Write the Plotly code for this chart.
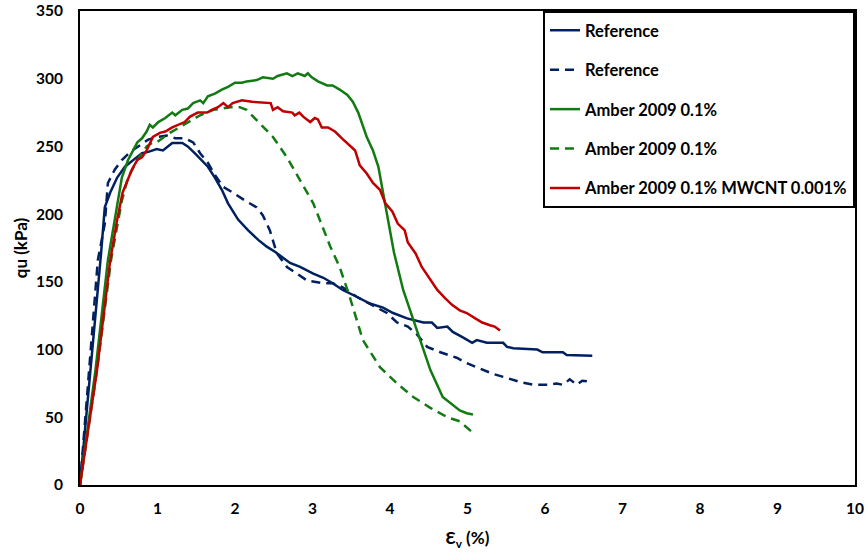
import plotly.graph_objects as go

# Reference (solid)
ref_solid_x = [0, 0.13, 0.27, 0.32, 0.39, 0.48, 0.58, 0.71, 0.80, 0.88, 0.99, 1.07, 1.19, 1.32, 1.39, 1.48,
               1.57, 1.65, 1.74, 1.83, 1.91, 2.04, 2.17, 2.30, 2.41, 2.52, 2.71, 2.84, 3.01, 3.14, 3.26,
               3.39, 3.57, 3.74, 3.91, 4.04, 4.22, 4.43, 4.54, 4.61, 4.74, 4.81, 4.94, 5.06, 5.12, 5.25,
               5.46, 5.51, 5.59, 5.90, 5.97, 6.23, 6.28, 6.61]
ref_solid_y = [0, 80, 170, 205, 216, 227, 235, 241, 245, 246, 248, 247, 252.5, 252.5, 250, 245,
               240, 235, 227, 218, 208, 196, 188, 181, 176, 172, 164, 161, 156, 153, 149,
               144, 139, 134, 131, 127, 123, 120, 120, 116, 117, 113, 109, 105, 107, 105,
               105, 102, 101, 100, 98, 98, 96, 95.5]

# Reference (dashed)
ref_dash_x = [0, 0.12, 0.23, 0.32, 0.36, 0.45, 0.54, 0.65, 0.77, 0.88, 0.99, 1.12, 1.23, 1.35, 1.46,
              1.55, 1.65, 1.74, 1.85, 1.97, 2.13, 2.28, 2.36, 2.45, 2.54, 2.67, 2.93, 3.14, 3.26, 3.39,
              3.57, 3.74, 3.96, 4.09, 4.23, 4.35, 4.48, 4.65, 4.86, 4.99, 5.16, 5.33, 5.51, 5.68, 5.85,
              6.03, 6.15, 6.23, 6.32, 6.41, 6.48, 6.61]
ref_dash_y = [0, 90, 166, 193, 223, 233, 240, 246, 251, 255, 257, 258, 256, 256, 253,
              245, 238, 229, 220, 216, 210, 205, 199, 188, 171, 161, 151, 149, 149, 146,
              139, 134, 127, 120, 117, 111, 102, 98, 94, 90, 86, 82, 79, 76, 74,
              74, 75, 74, 78, 74, 77, 76]

# Amber 2009 0.1% (solid)
amb_solid_x = [0, 0.20, 0.36, 0.45, 0.54, 0.62, 0.74, 0.80, 0.86, 0.90, 0.94, 1.01, 1.10, 1.19, 1.23,
               1.32, 1.39, 1.46, 1.55, 1.59, 1.65, 1.74, 1.83, 1.91, 2.00, 2.09, 2.15, 2.28, 2.36, 2.49,
               2.55, 2.67, 2.74, 2.81, 2.90, 2.94, 2.99, 3.07, 3.19, 3.26, 3.35, 3.45, 3.52, 3.59, 3.64,
               3.70, 3.78, 3.85, 3.91, 3.97, 4.05, 4.17, 4.35, 4.52, 4.68, 4.90, 4.99, 5.07]
amb_solid_y = [0, 85, 166, 198, 227, 240, 253, 256, 261, 266, 264, 268, 271, 275, 273,
               277, 278, 282, 284, 282, 287, 289, 292, 294, 297, 297, 298, 299, 301, 300,
               302, 304, 302, 304, 302, 304, 301, 298, 295, 295, 292, 288, 283, 275, 266,
               257, 247, 235, 216, 196, 172, 144, 114, 85, 65, 55, 53, 52]

# Amber 2009 0.1% (dashed)
amb_dash_x = [0, 0.22, 0.40, 0.54, 0.62, 0.74, 0.80, 0.86, 0.94, 0.99, 1.16, 1.38, 1.55, 1.72, 1.94,
              2.06, 2.15, 2.32, 2.49, 2.67, 2.84, 3.01, 3.23, 3.35, 3.48, 3.65, 3.87, 4.09, 4.30, 4.52,
              4.74, 4.90, 5.06]
amb_dash_y = [0, 85, 166, 210, 227, 240, 245, 250, 253, 253, 260, 267, 273, 277, 279,
              279, 277, 267, 257, 242, 225, 208, 176, 161, 139, 107, 87, 75, 65, 57,
              50, 47, 39]

# Amber 2009 0.1% MWCNT 0.001%
mw_x = [0, 0.22, 0.39, 0.48, 0.55, 0.67, 0.74, 0.80, 0.86, 0.94, 1.03, 1.10, 1.19, 1.26, 1.35, 1.42,
        1.52, 1.64, 1.70, 1.78, 1.85, 1.91, 1.97, 2.09, 2.22, 2.46, 2.49, 2.55, 2.62, 2.74, 2.77,
        2.83, 2.88, 2.97, 3.03, 3.07, 3.12, 3.20, 3.29, 3.38, 3.48, 3.55, 3.61, 3.70, 3.78, 3.87,
        3.94, 4.03, 4.10, 4.19, 4.23, 4.33, 4.41, 4.49, 4.61, 4.71, 4.80, 4.90, 4.99, 5.10, 5.19,
        5.29, 5.35, 5.42]
mw_y = [0, 85, 166, 196, 216, 233, 240, 242, 247, 257, 260, 261, 264, 266, 268, 272,
        275, 275, 277, 279, 282, 279, 282, 284, 283, 282, 277, 279, 276, 275, 273,
        275, 272, 268, 271, 270, 264, 264, 261, 256, 251, 247, 236, 230, 223, 218,
        208, 202, 193, 188, 179, 171, 161, 154, 144, 138, 133, 129, 127, 123, 120,
        118, 117, 114]

names = ["Reference", "Reference", "Amber 2009 0.1%", "Amber 2009 0.1%",
         "Amber 2009 0.1% MWCNT 0.001%"]

x_ticks = [0, 1, 2, 3, 4, 5, 6, 7, 8, 9, 10]
y_ticks = [0, 50, 100, 150, 200, 250, 300, 350]

navy = "#002060"
green = "#127a12"
red = "#c00000"
FONT = "Lato"

series = [
    (ref_solid_x, ref_solid_y, names[0], navy, "solid"),
    (ref_dash_x, ref_dash_y, names[1], navy, "9px,6px"),
    (amb_solid_x, amb_solid_y, names[2], green, "solid"),
    (amb_dash_x, amb_dash_y, names[3], green, "9px,6px"),
    (mw_x, mw_y, names[4], red, "solid"),
]

fig = go.Figure()
for i, (xs, ys, nm, col, dash) in enumerate(series):
    fig.add_trace(go.Scatter(
        x=xs, y=ys, mode="lines", name=nm, legendgroup=f"g{i}",
        line=dict(color=col, width=2.5, dash=dash),
    ))

fig.update_layout(
    width=868, height=553,
    margin=dict(l=80, r=13, t=11, b=68),
    paper_bgcolor="white", plot_bgcolor="white",
    font=dict(family=FONT, size=15, color="black"),
    showlegend=True,
    legend=dict(
        x=1, xanchor="right", y=1, yanchor="top",
        bgcolor="white", bordercolor="black", borderwidth=2,
        font=dict(family=FONT, size=16.5, color="black", weight="bold"),
        tracegroupgap=15,
        itemwidth=30,
    ),
    xaxis=dict(
        range=[0, 10], tickvals=x_ticks, ticks="", automargin=False,
        showline=True, linecolor="black", linewidth=2, mirror=True,
        showgrid=False, zeroline=False,
        tickfont=dict(family=FONT, size=15.5, weight="bold"),
        ticklabelstandoff=8,
        title=dict(text="Ɛ<sub>v</sub> (%)", font=dict(family=FONT, size=17, weight="bold"), standoff=17),
    ),
    yaxis=dict(
        range=[0, 350], tickvals=y_ticks, ticks="", automargin=False,
        showline=True, linecolor="black", linewidth=2, mirror=True,
        showgrid=False, zeroline=False, ticklabeloverflow="allow",
        tickfont=dict(family=FONT, size=15.5, weight="bold"),
        ticklabelstandoff=12,
        title=dict(text="qu (kPa)", font=dict(family=FONT, size=17, weight="bold"), standoff=4),
    ),
)

# Remove the browser's default 8px body margin so the figure sits at the page corner.
fig.write_html("out.html", config={"displayModeBar": False},
               post_script="document.body.style.margin='0';")
